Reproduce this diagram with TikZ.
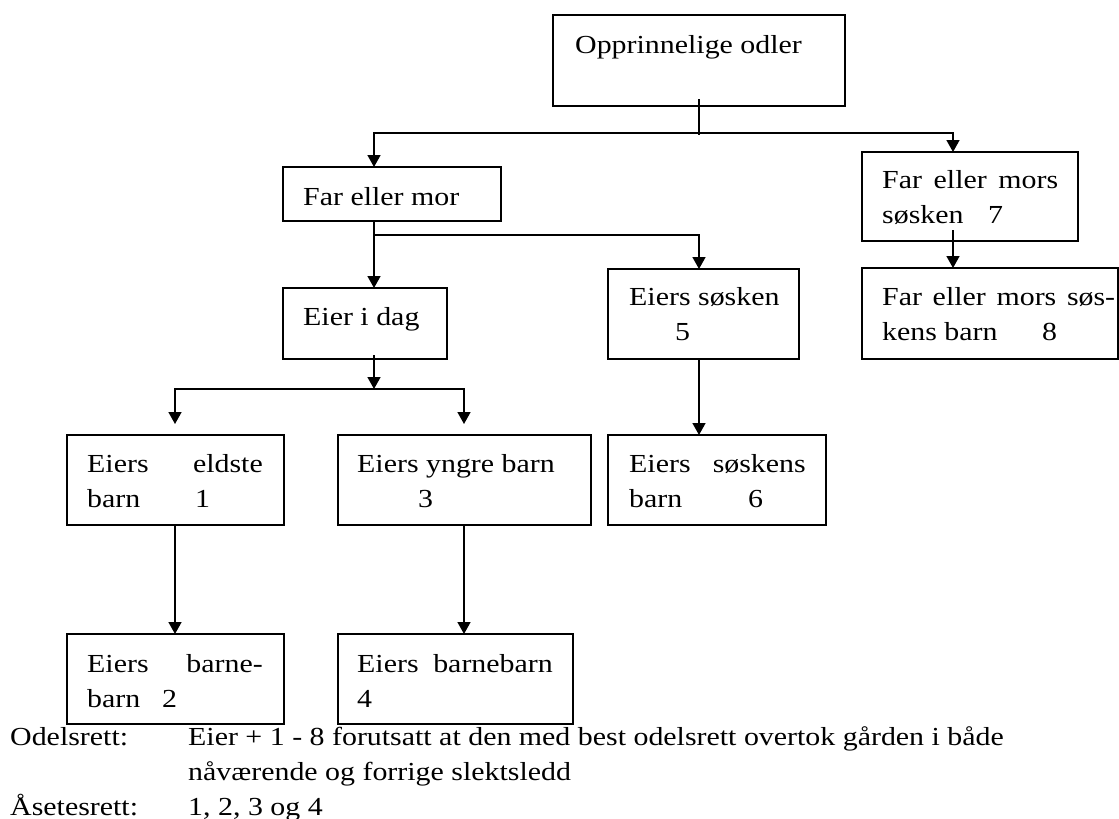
\documentclass[tikz,border=0pt]{standalone}
\usepackage{fontspec}
\setmainfont{Liberation Serif}[FakeStretch=1.15]
\usetikzlibrary{arrows.meta,calc}
\tikzset{
  box/.style={draw, line width=1.6pt, rectangle, inner sep=0pt, outer sep=0pt, anchor=north west},
  txt/.style={anchor=base west, inner sep=0pt, font=\fontsize{26pt}{35pt}\selectfont},
  txtr/.style={anchor=base east, inner sep=0pt, font=\fontsize{26pt}{35pt}\selectfont},
  conn/.style={line width=1.6pt},
  arr/.style={line width=1.6pt, -{Triangle[width=13pt,length=12pt]}},
}
\newcommand{\mkbox}[5]{\node[box, minimum width=#4pt, minimum height=#5pt] (#1) at (#2,#3) {};}
\begin{document}
\begin{tikzpicture}[x=1pt,y=-1pt]
\useasboundingbox (0,0) rectangle (1119,819);
% boxes
\mkbox{T}{553}{15}{292}{91}
\mkbox{F}{283}{167}{218}{54}
\mkbox{A}{862}{152}{216}{89}
\mkbox{B}{862}{268}{256}{91}
\mkbox{E}{283}{288}{164}{71}
\mkbox{S}{608}{269}{191}{90}
\mkbox{BA}{67}{435}{217}{90}
\mkbox{BC}{338}{435}{253}{90}
\mkbox{SB}{608}{435}{218}{90}
\mkbox{BB}{67}{634}{217}{90}
\mkbox{BD}{338}{634}{235}{90}
% texts
\node[txt] (tT) at (575,53) {Opprinnelige odler};
\node[txt] (tF) at (303,205) {Far eller mor};
\node[txt] (tE) at (303,325) {Eier i dag};
\node[txt] (tS1) at (629,305) {Eiers søsken};
\node[txt] (tS2) at (675,340) {5};
\node[txt] (tA1) at (882,188) {\makebox[176pt][s]{Far eller mors}};
\node[txt] (tA2) at (882,223) {søsken};
\node[txt] (tA3) at (988,223) {7};
\node[txt] (tB1) at (882,305) {\makebox[233pt][s]{Far eller mors søs-}};
\node[txt] (tB2) at (882,340) {kens barn};
\node[txt] (tB3) at (1042,340) {8};
\node[txt] (tBA1) at (87,472) {Eiers};
\node[txtr] (tBA2) at (263,472) {eldste};
\node[txt] (tBA3) at (87,507) {barn};
\node[txt] (tBA4) at (195,507) {1};
\node[txt] (tBC1) at (357,472) {Eiers yngre barn};
\node[txt] (tBC2) at (418,507) {3};
\node[txt] (tSB1) at (629,472) {Eiers};
\node[txtr] (tSB2) at (806,472) {søskens};
\node[txt] (tSB3) at (629,507) {barn};
\node[txt] (tSB4) at (748,507) {6};
\node[txt] (tBB1) at (87,672) {Eiers};
\node[txtr] (tBB2) at (263,672) {barne-};
\node[txt] (tBB3) at (87,707) {barn};
\node[txt] (tBB4) at (162,707) {2};
\node[txt] (tBD1) at (357,672) {Eiers};
\node[txtr] (tBD2) at (553,672) {barnebarn};
\node[txt] (tBD3) at (357,707) {4};
\node[txt] (f1) at (10,745) {Odelsrett:};
\node[txt] (f2) at (188,745) {Eier + 1 - 8 forutsatt at den med best odelsrett overtok gården i både};
\node[txt] (f3) at (188,780) {nåværende og forrige slektsledd};
\node[txt] (f4) at (10,815) {Åsetesrett:};
\node[txt] (f5) at (188,815) {1, 2, 3 og 4};
% junctions and attach points
\coordinate (Tout) at ($(T.south)+(0,-7)$);
\coordinate (jT) at (Tout |- 0,133);
\coordinate (Fin) at (374,167);
\coordinate (Ain) at (953,152);
\coordinate (Fout) at (374,221);
\coordinate (Ein) at (374,288);
\coordinate (jF) at (374,235);
\coordinate (Sin) at (699,269);
\coordinate (Eout) at (374,355);
\coordinate (jE) at (374,389);
\coordinate (BAtip) at (175,424);
\coordinate (BCtip) at (464,424);
\coordinate (Aout) at (953,230);
% connectors
\draw[conn] (Tout) -- ($(jT)+(0,2)$);
\draw[arr] (jT) -| (Fin);
\draw[arr] (jT) -| (Ain);
\draw[arr] (Fout) -- (Ein);
\draw[arr] (jF) -| (Sin);
\draw[arr] (Eout) -- (jE);
\draw[arr] (jE) -| (BAtip);
\draw[arr] (jE) -| (BCtip);
\draw[arr] (BA.south -| BAtip) -- (BB.north -| BAtip);
\draw[arr] (BC.south -| BCtip) -- (BD.north -| BCtip);
\draw[arr] (S.south -| Sin) -- (SB.north -| Sin);
\draw[arr] (Aout) -- (B.north -| Aout);
\end{tikzpicture}
\end{document}
